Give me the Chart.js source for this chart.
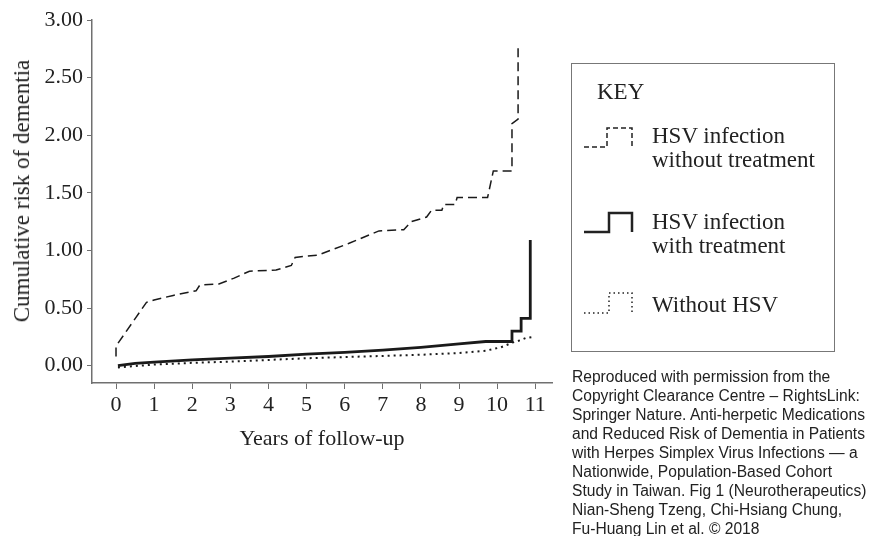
<!DOCTYPE html>
<html>
<head>
<meta charset="utf-8">
<script src="https://cdn.jsdelivr.net/npm/chart.js@4.4.1/dist/chart.umd.min.js"></script>
<style>
  html, body { margin: 0; padding: 0; background: #fff; }
  #wrap { position: relative; width: 874px; height: 536px; overflow: hidden; }
  #chart { position: absolute; left: 0; top: 0; }
  #ytitle { position: absolute; left: 22px; top: 191px; transform: translate(-50%, -50%) rotate(-90deg); font-family: 'Liberation Serif', serif; font-size: 23px; line-height: 24px; color: #222; white-space: nowrap; }
  #key { position: absolute; left: 571px; top: 63px; width: 262px; height: 287px; border: 1px solid #777; }
  .key-text { position: absolute; font-family: 'Liberation Serif', serif; font-size: 23px; line-height: 24px; color: #222; white-space: nowrap; }
  #symbols { position: absolute; left: 0; top: 0; }
  #caption { position: absolute; left: 572px; top: 367px; font-family: 'Liberation Sans', Arial, sans-serif; font-size: 15.6px; line-height: 19px; color: #222; white-space: nowrap; }
</style>
</head>
<body>
<div id="wrap">
  <canvas id="chart" width="874" height="536"></canvas>
  <div id="ytitle">Cumulative risk of dementia</div>
  <div id="key"></div>
  <svg id="symbols" width="874" height="536">
    <polyline points="584,147 607,147 607,128 632,128 632,147" fill="none" stroke="#222" stroke-width="1.5" stroke-dasharray="5,3"/>
    <polyline points="584,232 609,232 609,213 632,213 632,232" fill="none" stroke="#222" stroke-width="2.5"/>
    <polyline points="584,313 609,313 609,293 632,293 632,313" fill="none" stroke="#222" stroke-width="1.5" stroke-dasharray="1.5,3"/>
  </svg>
  <div class="key-text" style="left:597px; top:80px;">KEY</div>
  <div class="key-text" style="left:652px; top:124px;">HSV infection<br>without treatment</div>
  <div class="key-text" style="left:652px; top:210px;">HSV infection<br>with treatment</div>
  <div class="key-text" style="left:652px; top:293px;">Without HSV</div>
  <div id="caption">Reproduced with permission from the<br>Copyright Clearance Centre – RightsLink:<br>Springer Nature. Anti-herpetic Medications<br>and Reduced Risk of Dementia in Patients<br>with Herpes Simplex Virus Infections — a<br>Nationwide, Population-Based Cohort<br>Study in Taiwan. Fig 1 (Neurotherapeutics)<br>Nian-Sheng Tzeng, Chi-Hsiang Chung,<br>Fu-Huang Lin et al. © 2018</div>
</div>

<script>
// Curve data (years, cumulative risk)
const untreatedYears = [0, 0, 0.4, 0.8, 1.0, 1.5, 2.1, 2.2, 2.7, 3.1, 3.5, 4.2, 4.6, 4.7, 5.3, 6.1, 6.9, 7.55, 7.75, 8.15, 8.28, 8.55, 8.6, 8.9, 8.95, 9.75, 9.9, 10.39, 10.39, 10.55, 10.55];
const untreatedRisk  = [0.08, 0.17, 0.36, 0.55, 0.57, 0.61, 0.65, 0.70, 0.71, 0.76, 0.82, 0.83, 0.87, 0.94, 0.96, 1.06, 1.17, 1.18, 1.25, 1.29, 1.35, 1.35, 1.40, 1.40, 1.46, 1.46, 1.69, 1.69, 2.10, 2.14, 2.78];

const treatedYears = [0.05, 0.5, 1, 2, 3, 4, 5, 6, 7, 8, 9, 9.7, 10.39, 10.39, 10.63, 10.63, 10.87, 10.87];
const treatedRisk  = [0.0, 0.02, 0.032, 0.05, 0.065, 0.08, 0.10, 0.115, 0.135, 0.16, 0.19, 0.21, 0.21, 0.30, 0.30, 0.41, 0.41, 1.09];

const noHsvYears = [0.05, 1, 2, 3, 4, 5, 6, 7, 8, 9, 9.7, 10.1, 10.4, 10.6, 10.75, 10.95];
const noHsvRisk  = [-0.015, 0.01, 0.025, 0.035, 0.05, 0.065, 0.075, 0.085, 0.095, 0.11, 0.13, 0.16, 0.20, 0.22, 0.24, 0.25];

// Axis ticks
const xTicks = [0, 1, 2, 3, 4, 5, 6, 7, 8, 9, 10, 11];
const yTicks = [0, 0.5, 1, 1.5, 2, 2.5, 3];

const AXIS_COLOR = '#707070';
const LINE_COLOR = '#1a1a1a';
const SERIF = "'Liberation Serif', 'Times New Roman', serif";

function toPoints(xs, ys) {
    return xs.map((x, i) => ({ x: x, y: ys[i] }));
}

function makeTicks(values) {
    return values.map(v => ({ value: v }));
}

const ctx = document.getElementById('chart').getContext('2d');

new Chart(ctx, {
    type: 'line',
    data: {
        datasets: [
            {
                label: 'HSV infection with treatment',
                data: toPoints(treatedYears, treatedRisk),
                borderColor: LINE_COLOR,
                borderWidth: 2.8,
                pointRadius: 0,
                tension: 0
            },
            {
                label: 'HSV infection without treatment',
                data: toPoints(untreatedYears, untreatedRisk),
                borderColor: LINE_COLOR,
                borderWidth: 1.5,
                borderDash: [9, 5],
                pointRadius: 0,
                tension: 0
            },
            {
                label: 'Without HSV',
                data: toPoints(noHsvYears, noHsvRisk),
                borderColor: LINE_COLOR,
                borderWidth: 2,
                borderDash: [2, 4],
                pointRadius: 0,
                tension: 0
            }
        ]
    },
    options: {
        responsive: false,
        animation: false,
        layout: {
            padding: { left: 10, top: 20, right: 322, bottom: 84 }
        },
        plugins: {
            legend: { display: false },
            tooltip: { enabled: false }
        },
        scales: {
            x: {
                type: 'linear',
                min: -0.63,
                max: 11.44,
                afterBuildTicks: function(scale) {
                    scale.ticks = makeTicks(xTicks);
                },
                afterFit: function(scale) {
                    scale.height = 69;
                },
                ticks: {
                    color: '#222',
                    padding: 3,
                    maxRotation: 0,
                    font: { family: SERIF, size: 22 }
                },
                grid: {
                    drawOnChartArea: false,
                    drawTicks: true,
                    tickLength: 6,
                    color: AXIS_COLOR
                },
                border: { display: true, color: AXIS_COLOR, width: 1.5 },
                title: {
                    display: true,
                    text: 'Years of follow-up',
                    color: '#222',
                    padding: 0,
                    font: { family: SERIF, size: 22 }
                }
            },
            y: {
                min: -0.15,
                max: 3.0,
                afterBuildTicks: function(scale) {
                    scale.ticks = makeTicks(yTicks);
                },
                afterFit: function(scale) {
                    scale.width = 82;
                },
                ticks: {
                    color: '#222',
                    padding: 4,
                    font: { family: SERIF, size: 22 },
                    callback: function(value) {
                        return value.toFixed(2);
                    }
                },
                grid: {
                    drawOnChartArea: false,
                    drawTicks: true,
                    tickLength: 5,
                    color: AXIS_COLOR
                },
                border: { display: true, color: AXIS_COLOR, width: 1.5 }
            }
        }
    }
});
</script>
</body>
</html>
